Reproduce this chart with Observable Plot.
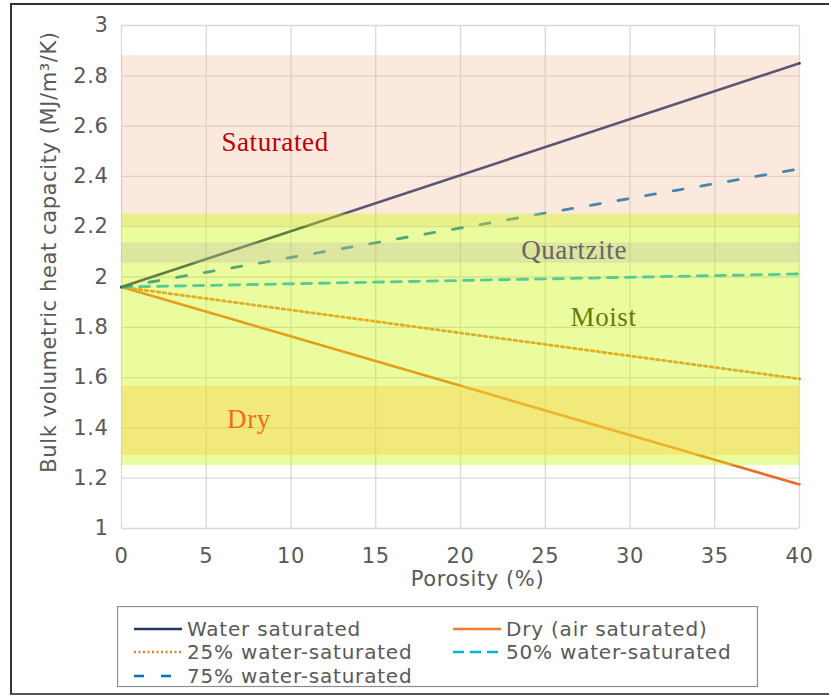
<!DOCTYPE html>
<html>
<head>
<meta charset="utf-8">
<script src="https://cdn.jsdelivr.net/npm/d3@7"></script>
<script src="https://cdn.jsdelivr.net/npm/@observablehq/plot@0.6"></script>
<style>
  html, body { margin: 0; padding: 0; background: #fff; overflow: hidden; }
  #wrap { position: relative; width: 829px; height: 700px; overflow: hidden; background: #fff; }
  #frame { position: absolute; left: 10px; top: 3px; width: 819px; height: 692px; border-left: 2.5px solid #333; border-top: 2.5px solid #333; border-bottom: 2.5px solid #555; border-right: none; box-sizing: border-box; pointer-events: none; }
  #chart { position: absolute; left: 0; top: 0; }
  #chart svg text { letter-spacing: 0.6px; }
  #legend { position: absolute; left: 117px; top: 606px; }
  #legend text { letter-spacing: 0.8px; }
</style>
</head>
<body>
<div id="wrap">
  <div id="chart"></div>
  <svg id="legend" width="642" height="82"></svg>
  <div id="frame"></div>
</div>
<script>
// ---- data ----
const porosity = [0, 40];                  // Porosity (%)
const waterSaturated = [1.96, 2.85];       // MJ/m3/K
const dryAir = [1.96, 1.175];
const sat25 = [1.96, 1.595];
const sat50 = [1.96, 2.012];
const sat75 = [1.96, 2.43];

const bandNames = ["Saturated", "Moist", "Quartzite", "Dry"];
const bandLow  = [2.20, 1.25, 2.055, 1.29];
const bandHigh = [2.88, 2.25, 2.135, 1.565];
const bandFrom = [0, 0, 0, 0];
const bandTo   = [40, 40, 40, 40];
const labelX = [9.06, 28.44, 26.7, 7.52];
const labelY = [2.537, 1.84, 2.107, 1.435];

const xTicks = [0, 5, 10, 15, 20, 25, 30, 35, 40];
const yTicks = [1, 1.2, 1.4, 1.6, 1.8, 2, 2.2, 2.4, 2.6, 2.8, 3];

const legendNames = ["Water saturated", "Dry (air saturated)", "25% water-saturated", "50% water-saturated", "75% water-saturated"];

// ---- build tables ----
const toPts = vals => porosity.map((p, i) => ({x: p, y: vals[i]}));
const bands = bandNames.map((n, i) => ({name: n, x1: bandFrom[i], x2: bandTo[i], y1: bandLow[i], y2: bandHigh[i]}));
const bandFill = {Saturated: "#F5B691", Moist: "#CDF70C", Quartzite: "#B9B3A5", Dry: "#FACF44"};
const bandOpacity = {Saturated: 0.3, Moist: 0.4, Quartzite: 0.3, Dry: 0.4};
const labelColor = {Saturated: "#C00000", Moist: "#667A08", Quartzite: "#666666", Dry: "#F46B1F"};
const labels = bandNames.map((n, i) => ({name: n, x: labelX[i], y: labelY[i]}));

const serif = "'Liberation Serif', 'DejaVu Serif', serif";

const chart = Plot.plot({
  width: 829,
  height: 600,
  marginLeft: 121,
  marginRight: 30,
  marginTop: 25,
  marginBottom: 72,
  style: {fontFamily: "'DejaVu Sans', Verdana, sans-serif", fontSize: "21px", color: "#595959", background: "transparent"},
  x: {domain: [0, 40]},
  y: {domain: [1, 3]},
  marks: [
    Plot.ruleX(xTicks, {stroke: "#D9D9D9", strokeWidth: 1.3}),
    Plot.ruleY(yTicks, {stroke: "#D9D9D9", strokeWidth: 1.3}),
    Plot.line(toPts(dryAir), {x: "x", y: "y", stroke: "#EE6A24", strokeWidth: 2.6}),
    Plot.line(toPts(sat25), {x: "x", y: "y", stroke: "#ED7D31", strokeWidth: 2.8, strokeDasharray: "2.6,3.4"}),
    Plot.line(toPts(sat50), {x: "x", y: "y", stroke: "#00B0F0", strokeWidth: 2.8, strokeDasharray: "10,8"}),
    Plot.line(toPts(sat75), {x: "x", y: "y", stroke: "#0070C0", strokeWidth: 2.8, strokeDasharray: "10,18"}),
    Plot.line(toPts(waterSaturated), {x: "x", y: "y", stroke: "#1A2E66", strokeWidth: 2.6}),
    Plot.rect(bands, {x1: "x1", x2: "x2", y1: "y1", y2: "y2",
      fill: d => bandFill[d.name], fillOpacity: d => bandOpacity[d.name]}),
    Plot.text(labels, {x: "x", y: "y", text: "name", fill: d => labelColor[d.name],
      fontFamily: serif, fontSize: 27, textAnchor: "middle", lineAnchor: "middle"}),
    Plot.axisX({ticks: xTicks, tickSize: 0, tickPadding: 20, label: null}),
    Plot.axisY({ticks: yTicks, tickSize: 0, tickPadding: 13, label: null, tickFormat: d => d3.format("~g")(d)}),
    Plot.text(["Porosity (%)"], {frameAnchor: "bottom", dx: 17, dy: 51, lineAnchor: "middle", textAnchor: "middle", fill: "#595959"}),
    Plot.text(["Bulk volumetric heat capacity (MJ/m³/K)"], {frameAnchor: "left", dx: -72, dy: -25, rotate: -90, lineAnchor: "middle", textAnchor: "middle", fill: "#595959"})
  ]
});
document.getElementById("chart").appendChild(chart);

// ---- legend ----
const leg = d3.select("#legend");
leg.append("rect").attr("x", 0.5).attr("y", 0.5).attr("width", 640).attr("height", 80)
  .attr("fill", "#fff").attr("stroke", "#8C8C8C").attr("stroke-width", 1.2);
const legStyles = [
  {stroke: "#203864", dash: null},
  {stroke: "#ED7D31", dash: null},
  {stroke: "#ED7D31", dash: "2,2.5"},
  {stroke: "#00B0F0", dash: "11,6"},
  {stroke: "#0070C0", dash: "10,17"}
];
const legPos = [[17, 23], [336, 23], [17, 46], [336, 46], [17, 70]];
legendNames.forEach((name, i) => {
  const [lx, ly] = legPos[i];
  leg.append("line").attr("x1", lx).attr("x2", lx + 48).attr("y1", ly).attr("y2", ly)
    .attr("stroke", legStyles[i].stroke).attr("stroke-width", 2.6)
    .attr("stroke-dasharray", legStyles[i].dash);
  leg.append("text").attr("x", lx + 53).attr("y", ly + 7).text(name)
    .attr("fill", "#595959").attr("font-family", "'DejaVu Sans', Verdana, sans-serif").attr("font-size", 20);
});
</script>
</body>
</html>
